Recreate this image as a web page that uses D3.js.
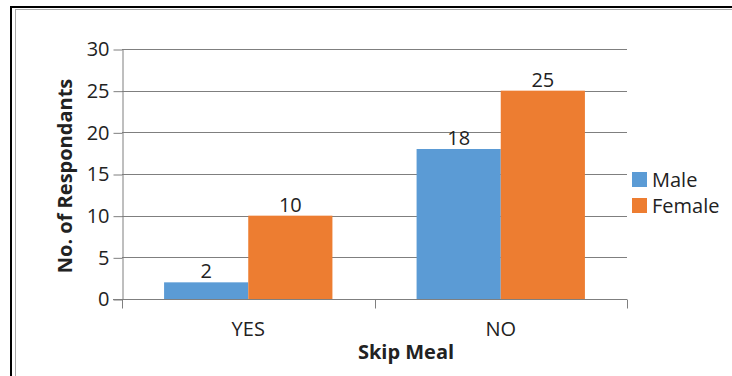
<!DOCTYPE html>
<html>
<head>
<meta charset="utf-8">
<script src="https://cdn.jsdelivr.net/npm/d3@7"></script>
<style>
  html, body { margin: 0; padding: 0; background: #fff; }
  svg { display: block; }
  text { font-family: "Open Sans", "Noto Sans", sans-serif; fill: #222; }
</style>
</head>
<body>
<script>
// Skip Meal survey: respondents by gender
const categories = ["YES", "NO"];
const seriesNames = ["Male", "Female"];
const maleValues = [2, 18];
const femaleValues = [10, 25];
const yTicks = [0, 5, 10, 15, 20, 25, 30];
const colors = ["#5B9BD5", "#ED7D31"];

const W = 732, H = 376;
const FS = 20;
const svg = d3.select("body").append("svg").attr("width", W).attr("height", H);

// Frame
svg.append("line").attr("x1", 11).attr("x2", W).attr("y1", 7).attr("y2", 7)
  .attr("stroke", "#000").attr("stroke-width", 2);
svg.append("line").attr("x1", 11).attr("x2", 11).attr("y1", 6).attr("y2", H)
  .attr("stroke", "#000").attr("stroke-width", 2);
svg.append("line").attr("x1", 15).attr("x2", W).attr("y1", 9.5).attr("y2", 9.5)
  .attr("stroke", "#aaa").attr("stroke-width", 1);
svg.append("line").attr("x1", 15.5).attr("x2", 15.5).attr("y1", 9).attr("y2", H)
  .attr("stroke", "#aaa").attr("stroke-width", 1);

const plot = { left: 122, right: 627, top: 49, bottom: 299 };

const x0 = d3.scaleBand().domain(categories).range([plot.left, plot.right]).paddingInner(0).paddingOuter(0);
const x1 = d3.scaleBand().domain(seriesNames).range([0, x0.bandwidth()]).paddingInner(0).paddingOuter(0.5);
const y = d3.scaleLinear().domain([0, 30]).range([plot.bottom, plot.top]);

// Gridlines
svg.append("g").selectAll("line").data(yTicks.filter(d => d > 0)).join("line")
  .attr("x1", plot.left).attr("x2", plot.right)
  .attr("y1", d => Math.round(y(d)) + 0.5).attr("y2", d => Math.round(y(d)) + 0.5)
  .attr("stroke", "#7f7f7f").attr("stroke-width", 1);

// Y axis
const yAxis = svg.append("g").attr("transform", `translate(${plot.left + 0.5},0.5)`)
  .call(d3.axisLeft(y).tickValues(yTicks).tickSize(9).tickPadding(4).tickSizeOuter(0));
yAxis.select(".domain").attr("stroke", "#7f7f7f");
yAxis.selectAll(".tick line").attr("stroke", "#7f7f7f");
yAxis.selectAll(".tick text").attr("font-size", FS).attr("fill", "#222")
  .attr("font-family", "'Open Sans', sans-serif");

// Bars
const data = categories.map((c, i) => ({ cat: c, vals: [maleValues[i], femaleValues[i]] }));
const groups = svg.append("g").selectAll("g").data(data).join("g")
  .attr("transform", d => `translate(${x0(d.cat)},0)`);
groups.selectAll("rect").data(d => d.vals.map((v, j) => ({ v, s: seriesNames[j], j })))
  .join("rect")
  .attr("x", d => x1(d.s))
  .attr("width", x1.bandwidth())
  .attr("y", d => y(d.v))
  .attr("height", d => y(0) - y(d.v))
  .attr("fill", d => colors[d.j]);
groups.selectAll("text.val").data(d => d.vals.map((v, j) => ({ v, s: seriesNames[j] })))
  .join("text").attr("class", "val")
  .attr("x", d => x1(d.s) + x1.bandwidth() / 2)
  .attr("y", d => y(d.v) - 4)
  .attr("text-anchor", "middle").attr("font-size", FS)
  .text(d => d.v);

// X axis
const xAxis = svg.append("g").attr("transform", `translate(0,${plot.bottom + 0.5})`);
xAxis.append("line").attr("x1", plot.left - 9).attr("x2", plot.right).attr("y1", 0).attr("y2", 0)
  .attr("stroke", "#7f7f7f");
xAxis.selectAll("line.tk").data([...categories.map(c => x0(c)), plot.right]).join("line")
  .attr("class", "tk")
  .attr("x1", d => Math.round(d) + 0.5).attr("x2", d => Math.round(d) + 0.5)
  .attr("y1", 0).attr("y2", 9).attr("stroke", "#7f7f7f");
xAxis.selectAll("text").data(categories).join("text")
  .attr("x", c => x0(c) + x0.bandwidth() / 2)
  .attr("y", 36).attr("text-anchor", "middle").attr("font-size", FS)
  .text(c => c);

// Axis titles
svg.append("text").attr("x", 406).attr("y", 359).attr("text-anchor", "middle")
  .attr("font-size", 20).attr("font-weight", "bold").text("Skip Meal");
svg.append("text").attr("transform", "translate(72,176) rotate(-90)")
  .attr("text-anchor", "middle").attr("font-size", 20).attr("font-weight", "bold")
  .text("No. of Respondants");

// Legend
const legend = svg.append("g").attr("transform", "translate(632,172)");
const li = legend.selectAll("g").data(seriesNames).join("g")
  .attr("transform", (d, i) => `translate(0,${i * 26})`);
li.append("rect").attr("width", 15).attr("height", 15).attr("fill", (d, i) => colors[i]);
li.append("text").attr("x", 20).attr("y", 15).attr("font-size", FS).text(d => d);
</script>
</body>
</html>
